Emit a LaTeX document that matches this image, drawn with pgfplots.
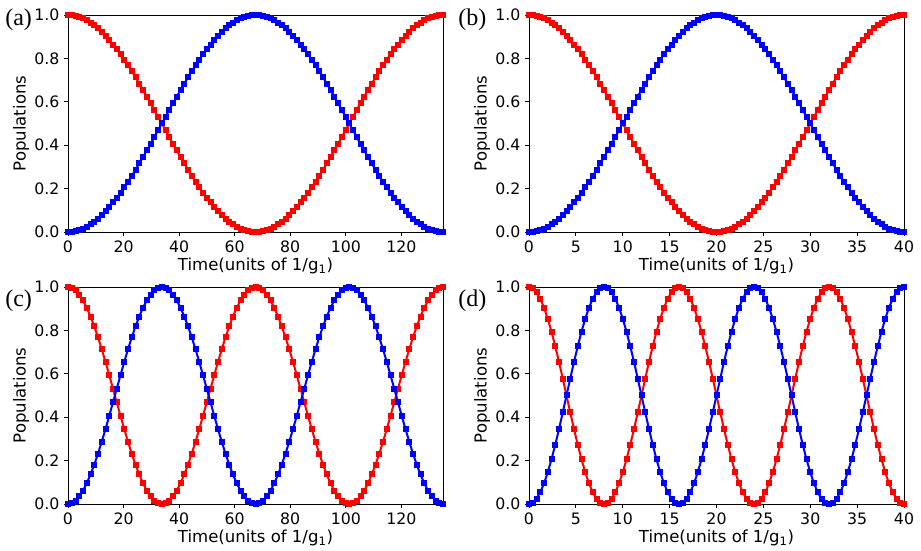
\documentclass[border=0pt]{standalone}
\usepackage{pgfplots}
\pgfplotsset{compat=1.18}
\usepackage{pgfplotstable}
\usepackage{fontspec}
\setmainfont{DejaVu Sans}
\newfontfamily\panelfont{Liberation Serif}

\definecolor{pred}{RGB}{255,0,0}
\definecolor{pblue}{RGB}{0,0,255}

% Populations of the two states; ta/tb are the time grids of the
% left/right panels, (rab,bab), (rc,bc), (rd,bd) the red/blue populations
\pgfplotstableread{
ta tb rab bab rc bc rd bd
0 0 1.000 0.000 1.000 0.000 1.000 0.000
1.35 0.4 0.999 0.001 0.996 0.004 0.994 0.006
2.70 0.8 0.996 0.004 0.984 0.016 0.976 0.024
4.05 1.2 0.991 0.009 0.965 0.035 0.946 0.054
5.40 1.6 0.984 0.016 0.938 0.062 0.905 0.095
6.75 2.0 0.976 0.024 0.905 0.095 0.854 0.146
8.10 2.4 0.965 0.035 0.864 0.136 0.794 0.206
9.45 2.8 0.952 0.048 0.819 0.181 0.727 0.273
10.80 3.2 0.938 0.062 0.768 0.232 0.655 0.345
12.15 3.6 0.922 0.078 0.713 0.287 0.578 0.422
13.50 4.0 0.905 0.095 0.655 0.345 0.500 0.500
14.85 4.4 0.885 0.115 0.594 0.406 0.422 0.578
16.20 4.8 0.864 0.136 0.531 0.469 0.345 0.655
17.55 5.2 0.842 0.158 0.469 0.531 0.273 0.727
18.90 5.6 0.819 0.181 0.406 0.594 0.206 0.794
20.25 6.0 0.794 0.206 0.345 0.655 0.146 0.854
21.60 6.4 0.768 0.232 0.287 0.713 0.095 0.905
22.95 6.8 0.741 0.259 0.232 0.768 0.054 0.946
24.30 7.2 0.713 0.287 0.181 0.819 0.024 0.976
25.65 7.6 0.684 0.316 0.136 0.864 0.006 0.994
27.00 8.0 0.655 0.345 0.095 0.905 0.000 1.000
28.35 8.4 0.624 0.376 0.062 0.938 0.006 0.994
29.70 8.8 0.594 0.406 0.035 0.965 0.024 0.976
31.05 9.2 0.563 0.437 0.016 0.984 0.054 0.946
32.40 9.6 0.531 0.469 0.004 0.996 0.095 0.905
33.75 10.0 0.500 0.500 0.000 1.000 0.146 0.854
35.10 10.4 0.469 0.531 0.004 0.996 0.206 0.794
36.45 10.8 0.437 0.563 0.016 0.984 0.273 0.727
37.80 11.2 0.406 0.594 0.035 0.965 0.345 0.655
39.15 11.6 0.376 0.624 0.062 0.938 0.422 0.578
40.50 12.0 0.345 0.655 0.095 0.905 0.500 0.500
41.85 12.4 0.316 0.684 0.136 0.864 0.578 0.422
43.20 12.8 0.287 0.713 0.181 0.819 0.655 0.345
44.55 13.2 0.259 0.741 0.232 0.768 0.727 0.273
45.90 13.6 0.232 0.768 0.287 0.713 0.794 0.206
47.25 14.0 0.206 0.794 0.345 0.655 0.854 0.146
48.60 14.4 0.181 0.819 0.406 0.594 0.905 0.095
49.95 14.8 0.158 0.842 0.469 0.531 0.946 0.054
51.30 15.2 0.136 0.864 0.531 0.469 0.976 0.024
52.65 15.6 0.115 0.885 0.594 0.406 0.994 0.006
54.00 16.0 0.095 0.905 0.655 0.345 1.000 0.000
55.35 16.4 0.078 0.922 0.713 0.287 0.994 0.006
56.70 16.8 0.062 0.938 0.768 0.232 0.976 0.024
58.05 17.2 0.048 0.952 0.819 0.181 0.946 0.054
59.40 17.6 0.035 0.965 0.864 0.136 0.905 0.095
60.75 18.0 0.024 0.976 0.905 0.095 0.854 0.146
62.10 18.4 0.016 0.984 0.938 0.062 0.794 0.206
63.45 18.8 0.009 0.991 0.965 0.035 0.727 0.273
64.80 19.2 0.004 0.996 0.984 0.016 0.655 0.345
66.15 19.6 0.001 0.999 0.996 0.004 0.578 0.422
67.50 20.0 0.000 1.000 1.000 0.000 0.500 0.500
68.85 20.4 0.001 0.999 0.996 0.004 0.422 0.578
70.20 20.8 0.004 0.996 0.984 0.016 0.345 0.655
71.55 21.2 0.009 0.991 0.965 0.035 0.273 0.727
72.90 21.6 0.016 0.984 0.938 0.062 0.206 0.794
74.25 22.0 0.024 0.976 0.905 0.095 0.146 0.854
75.60 22.4 0.035 0.965 0.864 0.136 0.095 0.905
76.95 22.8 0.048 0.952 0.819 0.181 0.054 0.946
78.30 23.2 0.062 0.938 0.768 0.232 0.024 0.976
79.65 23.6 0.078 0.922 0.713 0.287 0.006 0.994
81.00 24.0 0.095 0.905 0.655 0.345 0.000 1.000
82.35 24.4 0.115 0.885 0.594 0.406 0.006 0.994
83.70 24.8 0.136 0.864 0.531 0.469 0.024 0.976
85.05 25.2 0.158 0.842 0.469 0.531 0.054 0.946
86.40 25.6 0.181 0.819 0.406 0.594 0.095 0.905
87.75 26.0 0.206 0.794 0.345 0.655 0.146 0.854
89.10 26.4 0.232 0.768 0.287 0.713 0.206 0.794
90.45 26.8 0.259 0.741 0.232 0.768 0.273 0.727
91.80 27.2 0.287 0.713 0.181 0.819 0.345 0.655
93.15 27.6 0.316 0.684 0.136 0.864 0.422 0.578
94.50 28.0 0.345 0.655 0.095 0.905 0.500 0.500
95.85 28.4 0.376 0.624 0.062 0.938 0.578 0.422
97.20 28.8 0.406 0.594 0.035 0.965 0.655 0.345
98.55 29.2 0.437 0.563 0.016 0.984 0.727 0.273
99.90 29.6 0.469 0.531 0.004 0.996 0.794 0.206
101.25 30.0 0.500 0.500 0.000 1.000 0.854 0.146
102.60 30.4 0.531 0.469 0.004 0.996 0.905 0.095
103.95 30.8 0.563 0.437 0.016 0.984 0.946 0.054
105.30 31.2 0.594 0.406 0.035 0.965 0.976 0.024
106.65 31.6 0.624 0.376 0.062 0.938 0.994 0.006
108.00 32.0 0.655 0.345 0.095 0.905 1.000 0.000
109.35 32.4 0.684 0.316 0.136 0.864 0.994 0.006
110.70 32.8 0.713 0.287 0.181 0.819 0.976 0.024
112.05 33.2 0.741 0.259 0.232 0.768 0.946 0.054
113.40 33.6 0.768 0.232 0.287 0.713 0.905 0.095
114.75 34.0 0.794 0.206 0.345 0.655 0.854 0.146
116.10 34.4 0.819 0.181 0.406 0.594 0.794 0.206
117.45 34.8 0.842 0.158 0.469 0.531 0.727 0.273
118.80 35.2 0.864 0.136 0.531 0.469 0.655 0.345
120.15 35.6 0.885 0.115 0.594 0.406 0.578 0.422
121.50 36.0 0.905 0.095 0.655 0.345 0.500 0.500
122.85 36.4 0.922 0.078 0.713 0.287 0.422 0.578
124.20 36.8 0.938 0.062 0.768 0.232 0.345 0.655
125.55 37.2 0.952 0.048 0.819 0.181 0.273 0.727
126.90 37.6 0.965 0.035 0.864 0.136 0.206 0.794
128.25 38.0 0.976 0.024 0.905 0.095 0.146 0.854
129.60 38.4 0.984 0.016 0.938 0.062 0.095 0.905
130.95 38.8 0.991 0.009 0.965 0.035 0.054 0.946
132.30 39.2 0.996 0.004 0.984 0.016 0.024 0.976
133.65 39.6 0.999 0.001 0.996 0.004 0.006 0.994
135.00 40.0 1.000 0.000 1.000 0.000 0.000 1.000
}\pops

\pgfplotsset{
  popaxis/.style={
    scale only axis,
    width=281.25pt, height=162.75pt,
    anchor=north west,
    ymin=0, ymax=1,
    ytick={0,0.2,0.4,0.6,0.8,1.0},
    yticklabel style={/pgf/number format/fixed,
      /pgf/number format/fixed zerofill,
      /pgf/number format/precision=1},
    /pgf/number format/assume math mode=true,
    tick align=outside, tick pos=left,
    major tick length=3pt,
    tick style={black, line width=0.6pt},
    axis line style={line width=0.6pt},
    tick label style={font=\fontsize{11.8}{14}\selectfont},
    label style={font=\fontsize{12.4}{14.5}\selectfont},
    xlabel={Time(units of 1/g\textsubscript{1})},
    ylabel={Populations},
    xlabel style={yshift=3pt},
    ylabel style={yshift=-3pt},
    every axis plot/.append style={line width=1.5pt, mark=square*,
      mark size=1.5pt},
  },
  longtime/.style={xmin=0, xmax=135, xtick={0,20,40,60,80,100,120}},
  shorttime/.style={xmin=0, xmax=40, xtick={0,5,10,15,20,25,30,35,40}},
}

\begin{document}
\begin{tikzpicture}
\useasboundingbox (0,0) rectangle (690.75pt,412.5pt);

% (a)
\begin{axis}[popaxis, longtime, at={(51pt,401.25pt)}]
  \addplot[pred] table[x=ta, y=rab]{\pops};
  \addplot[pblue] table[x=ta, y=bab]{\pops};
\end{axis}
% (b)
\begin{axis}[popaxis, shorttime, at={(396.75pt,401.25pt)}]
  \addplot[pred] table[x=tb, y=rab]{\pops};
  \addplot[pblue] table[x=tb, y=bab]{\pops};
\end{axis}
% (c)
\begin{axis}[popaxis, longtime, at={(51pt,197.25pt)}]
  \addplot[pred] table[x=ta, y=rc]{\pops};
  \addplot[pblue] table[x=ta, y=bc]{\pops};
\end{axis}
% (d)
\begin{axis}[popaxis, shorttime, at={(396.75pt,197.25pt)}]
  \addplot[pred] table[x=tb, y=rd]{\pops};
  \addplot[pblue] table[x=tb, y=bd]{\pops};
\end{axis}

\node[anchor=base west, inner sep=0pt, font=\panelfont\fontsize{18}{20}\selectfont]
  at (3.75pt,393.4pt) {(a)};
\node[anchor=base west, inner sep=0pt, font=\panelfont\fontsize{18}{20}\selectfont]
  at (343.5pt,393.4pt) {(b)};
\node[anchor=base west, inner sep=0pt, font=\panelfont\fontsize{18}{20}\selectfont]
  at (3.75pt,182.25pt) {(c)};
\node[anchor=base west, inner sep=0pt, font=\panelfont\fontsize{18}{20}\selectfont]
  at (343.5pt,182.25pt) {(d)};
\end{tikzpicture}
\end{document}
